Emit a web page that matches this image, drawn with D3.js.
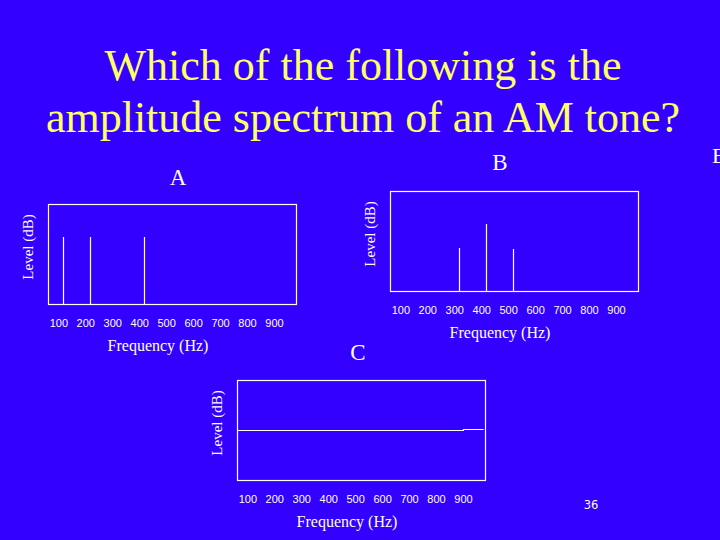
<!DOCTYPE html>
<html><head><meta charset="utf-8">
<script src="https://cdn.jsdelivr.net/npm/d3@7"></script>
<style>html,body{margin:0;padding:0;background:#3300ff;overflow:hidden}</style>
</head><body>
<svg id="c" width="720" height="540"></svg>
<script>
// ---- data ----
const titleLines = ["Which of the following is the", "amplitude spectrum of an AM tone?"];
const tickLabels = [100, 200, 300, 400, 500, 600, 700, 800, 900];
const panelNames = ["A", "B", "C"];
const freqA = [100, 200, 400];
const levelA = [67, 67, 67];
const freqB = [300, 400, 500];
const levelB = [43, 67, 42];
const freqC = [48, 885, 885, 960];
const levelC = [50, 50, 51, 51];
const xLabel = "Frequency (Hz)";
const yLabel = "Level (dB)";
const pageNumber = "36";

// ---- layout ----
const W = 720, H = 540;
const fg = "#ffffff", titleColor = "#ffff66";
const svg = d3.select("#c");
svg.append("rect").attr("width", W).attr("height", H).attr("fill", "#3300ff");

svg.selectAll("text.title").data(titleLines).join("text")
  .attr("class", "title")
  .attr("x", 363).attr("y", (d, i) => 80 + i * 52)
  .attr("text-anchor", "middle")
  .attr("font-family", "Liberation Serif, Times New Roman, serif")
  .attr("font-size", 44).attr("fill", titleColor).text(d => d);

const panels = [
  {name: panelNames[0], x0: 48, y0: 204, freq: freqA, level: levelA, kind: "stem", tx: 178, ty: 185},
  {name: panelNames[1], x0: 390, y0: 191, freq: freqB, level: levelB, kind: "stem", tx: 500, ty: 170},
  {name: panelNames[2], x0: 237, y0: 380, freq: freqC, level: levelC, kind: "line", tx: 358, ty: 360}
];
const bw = 248, bh = 100;

panels.forEach(p => {
  const g = svg.append("g");
  const x = d3.scaleLinear().domain([45, 965]).range([p.x0, p.x0 + bw]);
  const y = d3.scaleLinear().domain([0, 100]).range([p.y0 + bh, p.y0]);
  g.append("rect").attr("x", p.x0 + 0.5).attr("y", p.y0 + 0.5).attr("width", bw).attr("height", bh)
    .attr("fill", "none").attr("stroke", fg).attr("stroke-width", 1.2);
  const pts = p.freq.map((f, i) => ({f, l: p.level[i]}));
  if (p.kind === "stem") {
    g.selectAll("line.s").data(pts).join("line").attr("class", "s")
      .attr("x1", d => Math.round(x(d.f)) + 0.5).attr("x2", d => Math.round(x(d.f)) + 0.5)
      .attr("y1", y(0)).attr("y2", d => y(d.l))
      .attr("stroke", fg).attr("stroke-width", 1.2);
  } else {
    g.append("path").datum(pts)
      .attr("d", d3.line().x(d => x(d.f)).y(d => Math.round(y(d.l)) + 0.5))
      .attr("fill", "none").attr("stroke", fg).attr("stroke-width", 1.2);
  }
  g.selectAll("text.t").data(tickLabels).join("text").attr("class", "t")
    .attr("x", d => x(d) - 4).attr("y", p.y0 + bh + 22.5)
    .attr("text-anchor", "middle")
    .attr("font-family", "Liberation Sans, Arial, sans-serif").attr("font-size", 11)
    .attr("fill", fg).text(d => d);
  g.append("text").attr("x", p.x0 + 110).attr("y", p.y0 + bh + 47)
    .attr("text-anchor", "middle")
    .attr("font-family", "Liberation Serif, serif").attr("font-size", 16)
    .attr("fill", fg).text(xLabel);
  g.append("text").attr("transform", `translate(${p.x0 - 15},${p.y0 + 43}) rotate(-90)`)
    .attr("text-anchor", "middle")
    .attr("font-family", "Liberation Serif, serif").attr("font-size", 15)
    .attr("fill", fg).text(yLabel);
  g.append("text").attr("x", p.tx).attr("y", p.ty).attr("text-anchor", "middle")
    .attr("font-family", "Liberation Serif, serif").attr("font-size", 23)
    .attr("fill", fg).text(p.name);
});

svg.append("text").attr("x", 712).attr("y", 163)
  .attr("font-family", "Liberation Serif, serif").attr("font-size", 22)
  .attr("fill", fg).text("E");
svg.append("text").attr("x", 591).attr("y", 509).attr("text-anchor", "middle")
  .attr("font-family", "DejaVu Sans, sans-serif").attr("font-size", 11.5)
  .attr("fill", fg).text(pageNumber);
</script>
</body></html>
